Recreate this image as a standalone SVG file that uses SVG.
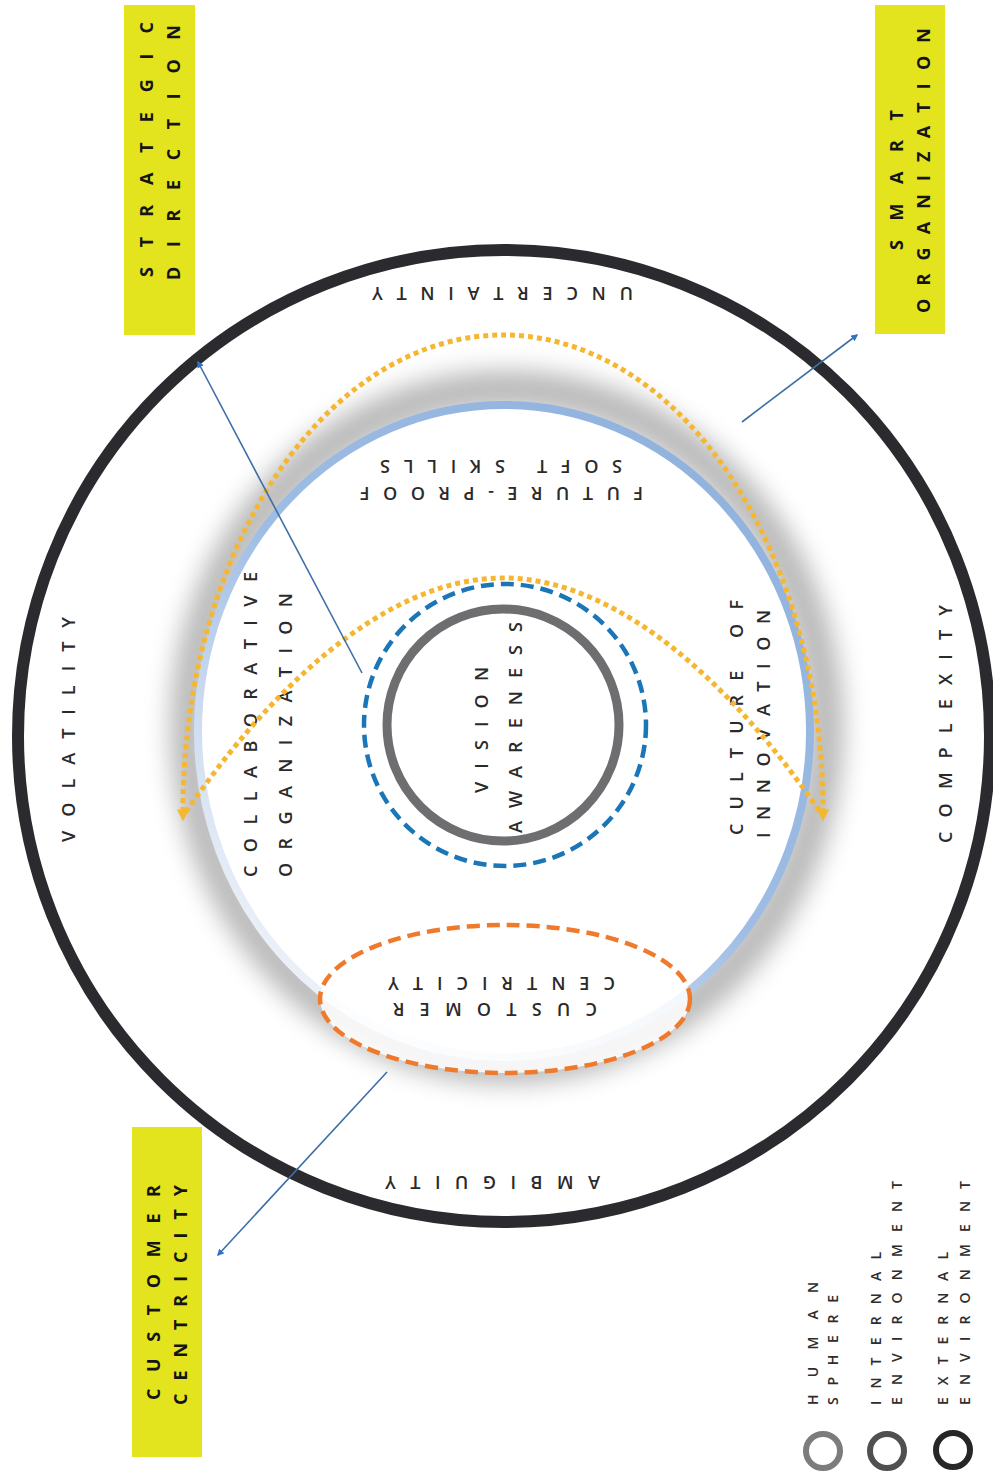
<svg xmlns="http://www.w3.org/2000/svg" width="993" height="1483" viewBox="0 0 993 1483">
<defs>
<style>
.t{font-family:"Open Sans","Liberation Sans",sans-serif;font-size:18px;fill:#2a2a2a;font-weight:600}
.yb{font-family:"Open Sans","Liberation Sans",sans-serif;font-size:18px;fill:#141414;font-weight:700}
.lg{font-family:"Open Sans","Liberation Sans",sans-serif;font-size:14px;fill:#2d2d2d;font-weight:600}
.box{fill:#E4E41E}
.dot{fill:none;stroke:#F5B731;stroke-width:5;stroke-dasharray:5 4}
.conn{stroke:#3d6fa6;stroke-width:1.6;fill:none}
</style>
<filter id="blur" x="-20%" y="-20%" width="140%" height="140%"><feGaussianBlur stdDeviation="12"/></filter>
<linearGradient id="blueg" x1="0.85" y1="0.05" x2="0.15" y2="0.95">
<stop offset="0" stop-color="#8fb2dd"/>
<stop offset="0.5" stop-color="#9fbde4"/>
<stop offset="0.75" stop-color="#cddcf0"/>
<stop offset="1" stop-color="#f4f7fb"/>
</linearGradient>
<marker id="ah" viewBox="0 0 10 10" refX="8" refY="5" markerWidth="7" markerHeight="7" orient="auto" markerUnits="userSpaceOnUse">
<path d="M0,0 L10,5 L0,10 z" fill="#2f72c6"/>
</marker>
<marker id="oh" viewBox="0 0 10 10" refX="2" refY="5" markerWidth="14" markerHeight="12" orient="auto-start-reverse" markerUnits="userSpaceOnUse">
<path d="M0,0 L10,5 L0,10 z" fill="#F5B731"/>
</marker>
</defs>
<rect width="993" height="1483" fill="#ffffff"/>

<g id="external-environment">
<circle cx="504" cy="736" r="486" fill="none" stroke="#2b2b2f" stroke-width="12"/>
<text class="t" transform="translate(502.5,287) rotate(180)" text-anchor="middle" textLength="261" lengthAdjust="spacing">UNCERTAINTY</text>
<text class="t" transform="translate(75,842) rotate(-90)" textLength="225" lengthAdjust="spacing">VOLATILITY</text>
<text class="t" transform="translate(952,843) rotate(-90)" textLength="238" lengthAdjust="spacing">COMPLEXITY</text>
<text class="t" transform="translate(492.5,1176) rotate(180)" text-anchor="middle" textLength="215" lengthAdjust="spacing">AMBIGUITY</text>
</g>

<g id="internal-environment">
<ellipse cx="507" cy="727" rx="318" ry="338" fill="none" stroke="#8c8c8c" stroke-width="38" filter="url(#blur)" opacity="0.6"/>
<ellipse cx="504" cy="731" rx="304" ry="324" fill="#ffffff"/>
<ellipse cx="504" cy="731" rx="306" ry="326" fill="none" stroke="url(#blueg)" stroke-width="8"/>
<text class="t" transform="translate(501.5,487) rotate(180)" text-anchor="middle" textLength="283" lengthAdjust="spacing">FUTURE-PROOF</text>
<text class="t" transform="translate(501,460) rotate(180)" text-anchor="middle" textLength="242" lengthAdjust="spacing">SOFT SKILLS</text>
<text class="t" transform="translate(257,877) rotate(-90)" textLength="305" lengthAdjust="spacing">COLLABORATIVE</text>
<text class="t" transform="translate(292,877) rotate(-90)" textLength="284" lengthAdjust="spacing">ORGANIZATION</text>
<text class="t" transform="translate(743,835) rotate(-90)" textLength="235" lengthAdjust="spacing">CULTURE OF</text>
<text class="t" transform="translate(770,838) rotate(-90)" textLength="228" lengthAdjust="spacing">INNOVATION</text>
</g>

<g id="customer-centricity-inner">
<ellipse cx="505" cy="999" rx="185" ry="74" fill="#ffffff" fill-opacity="0.85" stroke="#F07A2C" stroke-width="4.5" stroke-dasharray="13 7"/>
<text class="t" transform="translate(495,1003) rotate(180)" text-anchor="middle" textLength="204" lengthAdjust="spacing">CUSTOMER</text>
<text class="t" transform="translate(501.5,977) rotate(180)" text-anchor="middle" textLength="227" lengthAdjust="spacing">CENTRICITY</text>
</g>

<g id="human-sphere">
<circle cx="505" cy="725" r="141" fill="none" stroke="#1a76b6" stroke-width="4.5" stroke-dasharray="13 7"/>
<circle cx="503" cy="725" r="116" fill="none" stroke="#6e6e70" stroke-width="9"/>
<text class="t" transform="translate(488,793) rotate(-90)" textLength="126" lengthAdjust="spacing">VISION</text>
<text class="t" transform="translate(522,833) rotate(-90)" textLength="211" lengthAdjust="spacing">AWARENESS</text>
</g>

<g id="flows">
<path class="dot" d="M183,812 A320,477 0 0 1 823,812" marker-start="url(#oh)" marker-end="url(#oh)"/>
<path class="dot" d="M186,812 C262,700 380,578 503,578 C626,578 744,700 820,812"/>
</g>

<g id="strategic-direction">
<rect class="box" x="124" y="5" width="71" height="330"/>
<text class="yb" transform="translate(153,277) rotate(-90)" textLength="255" lengthAdjust="spacing">STRATEGIC</text>
<text class="yb" transform="translate(180,280) rotate(-90)" textLength="255" lengthAdjust="spacing">DIRECTION</text>
</g>

<g id="smart-organization">
<rect class="box" x="875" y="5" width="70" height="329"/>
<text class="yb" transform="translate(903,250) rotate(-90)" textLength="140" lengthAdjust="spacing">SMART</text>
<text class="yb" transform="translate(930,313) rotate(-90)" textLength="285" lengthAdjust="spacing">ORGANIZATION</text>
</g>

<g id="customer-centricity">
<rect class="box" x="132" y="1127" width="70" height="330"/>
<text class="yb" transform="translate(160,1400) rotate(-90)" textLength="215" lengthAdjust="spacing">CUSTOMER</text>
<text class="yb" transform="translate(187,1405) rotate(-90)" textLength="220" lengthAdjust="spacing">CENTRICITY</text>
</g>

<g id="legend">
<circle cx="823" cy="1451" r="17" fill="none" stroke="#7c7c7e" stroke-width="6"/>
<circle cx="887" cy="1451" r="17" fill="none" stroke="#505052" stroke-width="6"/>
<circle cx="953" cy="1450" r="17" fill="none" stroke="#262628" stroke-width="6"/>
<text class="lg" transform="translate(818,1405) rotate(-90)" textLength="123" lengthAdjust="spacing">HUMAN</text>
<text class="lg" transform="translate(838,1405) rotate(-90)" textLength="110" lengthAdjust="spacing">SPHERE</text>
<text class="lg" transform="translate(881,1405) rotate(-90)" textLength="153" lengthAdjust="spacing">INTERNAL</text>
<text class="lg" transform="translate(902,1405) rotate(-90)" textLength="224" lengthAdjust="spacing">ENVIRONMENT</text>
<text class="lg" transform="translate(948,1405) rotate(-90)" textLength="153" lengthAdjust="spacing">EXTERNAL</text>
<text class="lg" transform="translate(970,1405) rotate(-90)" textLength="224" lengthAdjust="spacing">ENVIRONMENT</text>
</g>

<g id="connectors">
<line class="conn" x1="362" y1="673" x2="198" y2="362" marker-end="url(#ah)"/>
<line class="conn" x1="742" y1="422" x2="857" y2="335" marker-end="url(#ah)"/>
<line class="conn" x1="387" y1="1072" x2="218" y2="1255" marker-end="url(#ah)"/>
</g>
</svg>
